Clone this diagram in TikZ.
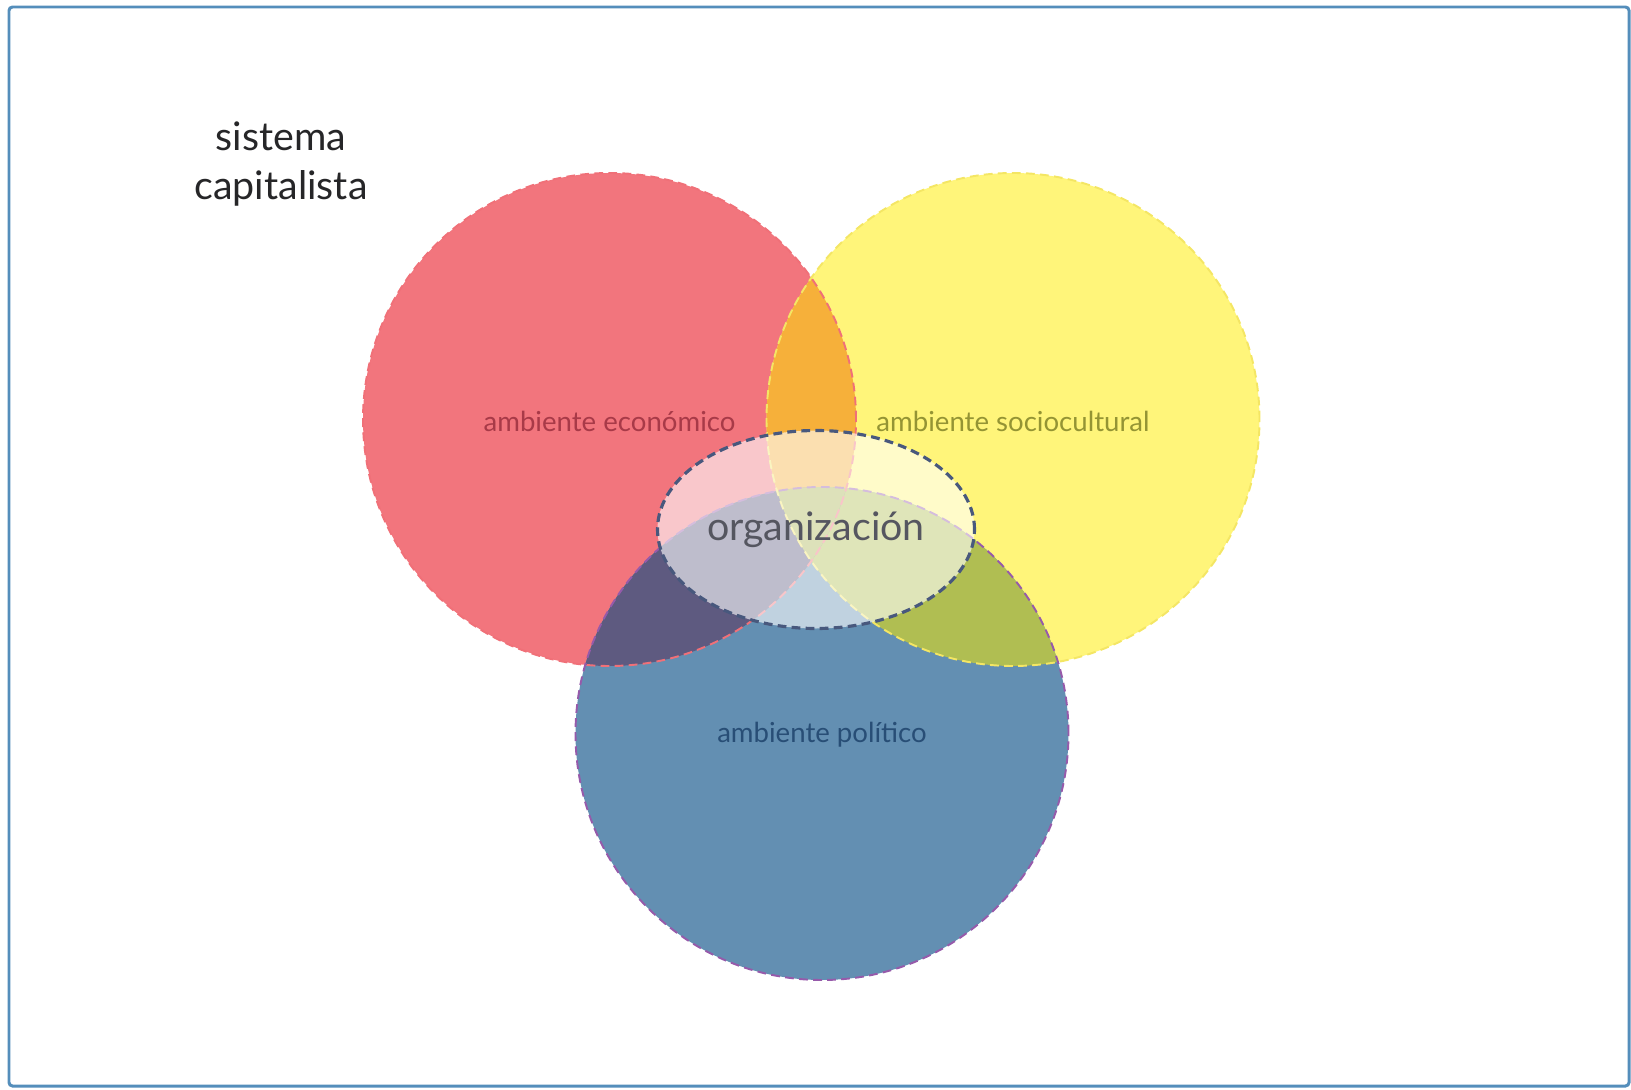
\documentclass[tikz,border=0pt]{standalone}
\definecolor{frameblue}{RGB}{84, 142, 187}
\definecolor{econfill}{RGB}{242, 117, 125}
\definecolor{sociofill}{RGB}{255, 245, 122}
\definecolor{polifill}{RGB}{99, 143, 178}
\definecolor{econsocio}{RGB}{246, 176, 58}
\definecolor{econpoli}{RGB}{94, 90, 128}
\definecolor{sociopoli}{RGB}{176, 190, 82}
\definecolor{allthree}{RGB}{172, 182, 84}
\definecolor{econline}{RGB}{240, 112, 120}
\definecolor{socioline}{RGB}{244, 230, 100}
\definecolor{poliline}{RGB}{150, 90, 170}
\definecolor{orgline}{RGB}{72, 88, 125}
\definecolor{econtext}{RGB}{168, 58, 72}
\definecolor{sociotext}{RGB}{148, 148, 52}
\definecolor{politext}{RGB}{40, 78, 118}
\definecolor{orgtext}{RGB}{85, 86, 96}
\usepackage{fontspec}
\setmainfont{Lato}
\usepackage{tikz}
\usetikzlibrary{shapes, positioning}

\tikzset{
  envtext/.style={font=\fontsize{15.7}{18}\selectfont, inner sep=0pt},
  ringline/.style={dash pattern=on 5pt off 3pt, line width=1.1pt}
}

\begin{document}
\begin{tikzpicture}
                \useasboundingbox (0,0) rectangle (32.62,21.78);

                % Frame
                \draw[frameblue, line width=1.7pt, rounded corners=2pt] (0.18,0.06) rectangle (32.58,21.64);

                % Centres of the three environments
                \def\rad{4.93}
                \coordinate (econ) at (12.19,13.39);
                \coordinate (socio) at (20.26,13.39);
                \coordinate (poli) at (16.44,7.11);

                % Circles
                \fill[econfill] (econ) circle (\rad);
                \fill[sociofill] (socio) circle (\rad);
                \fill[polifill] (poli) circle (\rad);

                % Overlaps
                \begin{scope}
                    \clip (socio) circle (\rad);
                    \fill[sociopoli] (poli) circle (\rad);
                \end{scope}
                \begin{scope}
                    \clip (econ) circle (\rad);
                    \fill[econsocio] (socio) circle (\rad);
                    \fill[econpoli] (poli) circle (\rad);
                    \clip (socio) circle (\rad);
                    \fill[allthree] (poli) circle (\rad);
                \end{scope}

                % Dashed rims
                \draw[econline, ringline] (econ) circle (\rad);
                \draw[socioline, ringline] (socio) circle (\rad);
                \draw[poliline, ringline] (poli) circle (\rad);

                % Labels
                \node[envtext, econtext] (econlbl) at (12.19,13.35) {ambiente económico};
                \node[envtext, sociotext] (sociolbl) at (20.26,13.36) {ambiente sociocultural};
                \node[envtext, politext] (polilbl) at (16.44,7.09) {ambiente político};

                % Organization
                \node[ellipse, draw=orgline, line width=1.8pt, dash pattern=on 5pt off 3pt,
                      fill=white, fill opacity=0.6, text opacity=1, text=orgtext,
                      minimum width=6.34cm, minimum height=3.96cm, inner sep=0pt,
                      font=\fontsize{22.4}{26}\selectfont] (org) at (16.32,11.19) {organización};

                % System
                \node[align=center, text={rgb,255:red,38;green,38;blue,40},
                      font=\fontsize{22.4}{27.5}\selectfont] (sys) at (5.62,18.5) {sistema\\capitalista};
            \end{tikzpicture}
\end{document}
